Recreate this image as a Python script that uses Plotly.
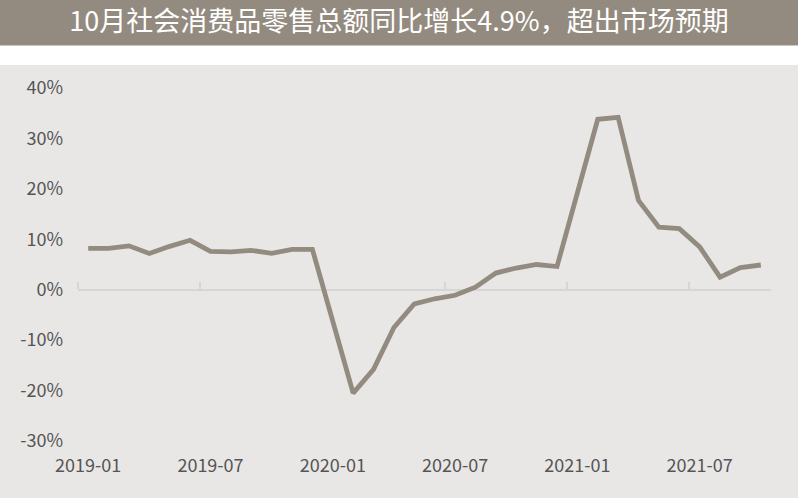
import plotly.graph_objects as go

months = [
    "2019-01", "2019-02", "2019-03", "2019-04", "2019-05", "2019-06",
    "2019-07", "2019-08", "2019-09", "2019-10", "2019-11", "2019-12",
    "2020-01", "2020-02", "2020-03", "2020-04", "2020-05", "2020-06",
    "2020-07", "2020-08", "2020-09", "2020-10", "2020-11", "2020-12",
    "2021-01", "2021-02", "2021-03", "2021-04", "2021-05", "2021-06",
    "2021-07", "2021-08", "2021-09", "2021-10",
]
retail_yoy = [
    8.2, 8.2, 8.7, 7.2, 8.6, 9.8, 7.6, 7.5, 7.8, 7.2, 8.0, 8.0,
    None, -20.5, -15.8, -7.5, -2.8, -1.8, -1.1, 0.5, 3.3, 4.3, 5.0, 4.6,
    None, 33.8, 34.2, 17.7, 12.4, 12.1, 8.5, 2.5, 4.4, 4.9,
]
x_tick_labels = ["2019-01", "2019-07", "2020-01", "2020-07", "2021-01", "2021-07"]
y_tick_vals = [-30, -20, -10, 0, 10, 20, 30, 40]
y_tick_text = ["-30%", "-20%", "-10%", "0%", "10%", "20%", "30%", "40%"]
title_text = "10月社会消费品零售总额同比增长4.9%，超出市场预期"

BG = "#e8e7e5"
BAR = "#948b80"
LINE = "#948b80"
FONT = "Noto Sans CJK SC"

W, H = 798, 498
ML, MR, MT, MB = 78, 27, 88, 57
plot_h = H - MT - MB
plot_w = W - ML - MR

fig = go.Figure()
fig.add_trace(go.Scatter(
    x=months, y=retail_yoy, mode="lines", connectgaps=True,
    line=dict(color=LINE, width=4.8), hoverinfo="skip", showlegend=False,
))

ymin, ymax = y_tick_vals[0], y_tick_vals[-1]
zero_pos = (0 - ymin) / (ymax - ymin)

fig.update_layout(
    width=W, height=H,
    margin=dict(l=ML, r=MR, t=MT, b=MB),
    paper_bgcolor=BG, plot_bgcolor=BG,
    font=dict(family=FONT, color="#555555", size=18),
    title=dict(text=title_text, x=0.5, xref="container", xanchor="center",
               y=1 - 22 / H, yref="container", yanchor="middle",
               font=dict(family=FONT, size=27, color="#ffffff")),
    xaxis=dict(type="category", categoryorder="array", categoryarray=months,
               range=[-0.5, len(months) - 0.5], tickmode="array",
               tickvals=x_tick_labels, ticktext=x_tick_labels,
               showline=False, showgrid=False, zeroline=False, ticks="",
               ticklabelstandoff=12, tickfont=dict(size=18, color="#555555")),
    xaxis2=dict(type="linear", overlaying="x", anchor="free", position=zero_pos,
                side="top", range=[-0.5, len(months) - 0.5], tickmode="linear",
                tick0=-0.5, dtick=6, ticks="outside", ticklen=7, tickwidth=2,
                tickcolor="#d6d6d6", showline=True, linecolor="#d6d6d6",
                linewidth=2, showticklabels=False, showgrid=False,
                zeroline=False, layer="below traces"),
    yaxis=dict(range=[ymin, ymax], tickmode="array", tickvals=y_tick_vals,
               ticktext=y_tick_text, showgrid=False, zeroline=False,
               showline=False, ticks="", ticklabelstandoff=14,
               tickfont=dict(size=18, color="#555555")),
    shapes=[
        dict(type="rect", xref="paper", yref="paper",
             x0=-ML / plot_w, x1=(W - ML) / plot_w,
             y0=(H - MB - 65) / plot_h, y1=(H - MB) / plot_h,
             fillcolor="#ffffff", line=dict(width=0), layer="below"),
        dict(type="rect", xref="paper", yref="paper",
             x0=-ML / plot_w, x1=(W - ML) / plot_w,
             y0=(H - MB - 45.5) / plot_h, y1=(H - MB) / plot_h,
             fillcolor=BAR, line=dict(width=0), layer="below"),
    ],
)
# dummy trace to activate xaxis2
fig.add_trace(go.Scatter(x=[None], y=[None], xaxis="x2", yaxis="y",
                         showlegend=False, hoverinfo="skip"))

fig.write_html(
    "out.html",
    config={"displayModeBar": False},
    post_script="document.body.style.margin='0';document.body.style.padding='0';"
                "document.documentElement.style.margin='0';",
)
